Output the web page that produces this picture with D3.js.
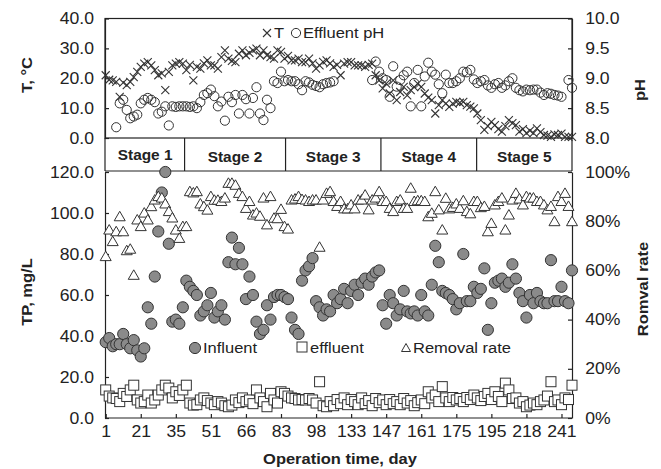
<!DOCTYPE html>
<html>
<head>
<meta charset="utf-8">
<script src="https://cdnjs.cloudflare.com/ajax/libs/d3/7.8.5/d3.min.js"></script>
<style>
  body { margin: 0; background: #fff; }
  text { font-family: "Liberation Sans", Arial, sans-serif; fill: #222; }
</style>
</head>
<body>
<div id="chart"></div>
<script>
// x axis is the sample number; one label every 10 samples
var tickLabels = ["1", "21", "35", "51", "66", "83", "98", "133", "147", "161", "175", "195", "218", "241"];
var stageNames = ["Stage 1", "Stage 2", "Stage 3", "Stage 4", "Stage 5"];
var stageBreaks = [22.5, 51.3, 78.5, 105.8]; // in sample index

var temperature = [
  21, 19.5, 19.3, 18.8, 13.8, 18.5, 17.7, 18.8, 20.4, 22.1,
  23.8, 24.9, 25.4, 24.3, 22.7, 21, 21.6, 16, 22.1, 24.3,
  24.9, 25.4, 24.9, 22.7, 24.5, 19.3, 23.8, 23.2, 25, 26,
  24.3, 24.3, 23.2, 27.1, 29.3, 26.6, 25.8, 25.4, 28.2, 29.3,
  27.7, 28.5, 29.3, 29.9, 27.7, 29.3, 27.7, 27.1, 26.6, 29.3,
  28.8, 26.6, 27.5, 26, 26, 26.6, 25.4, 25.4, 26.6, 25,
  23.2, 24.3, 25.5, 26, 25, 23.8, 24.5, 21, 24.9, 25.4,
  25.4, 24.3, 24.3, 24.3, 23.8, 24.5, 24.9, 21, 19.3, 16.6,
  18.2, 14.9, 19.3, 12.7, 15.4, 17.1, 14.3, 16, 17, 18.2,
  17.1, 14.9, 13.5, 12.7, 8.2, 11, 12.7, 11.5, 10.4, 11.5,
  12.1, 11.8, 12.1, 11, 10.5, 9.9, 8.2, 6, 2.7, 4,
  5.4, 4.3, 3, 2.1, 4, 6, 5, 4.3, 2.1, 3,
  1.6, 2.5, 1.6, 3.2, 2, 1, 0.8, 0.4, 1.2, 1,
  1.5, 0.4, 0.4, 0.4
];

var effluentPH = [
  null, null, null, 8.18, 8.58, 8.64, 8.47, 8.33, 8.36, 8.39,
  8.58, 8.64, 8.67, 8.64, 8.6, 8.41, 8.44, 8.53, 8.21, 8.53,
  8.52, 8.53, 8.53, 8.53, 8.52, 8.53, 8.5, 8.6, 8.72, 8.75,
  8.81, 8.7, 8.53, 8.61, 8.29, 8.69, 8.6, 8.72, 8.41, 8.72,
  8.65, 8.41, 8.67, 8.85, 8.41, 8.3, 8.64, 8.5, 8.95, 8.92,
  9.11, 8.95, 8.97, 8.95, 8.95, 8.9, 8.8, 8.95, 8.93, 8.89,
  8.87, 8.85, 8.9, 8.92, 8.93, 8.95, null, null, null, null,
  null, null, null, null, null, null, 8.97, 9.28, 9.11, 9.0,
  8.97, 8.69, 9.2, 8.86, 8.97, 9.05, 9.11, 8.53, 8.92, 9.14,
  8.53, 9.03, 9.26, 9.11, 9.06, 8.9, 8.75, 9.06, 8.92, 8.92,
  8.95, 9.0, 9.11, 9.1, 9.14, 8.98, 8.92, 8.95, 8.97, 8.88,
  8.84, 8.9, 8.92, 8.84, 8.88, 8.95, 9.0, 8.84, 8.8, 8.78,
  8.81, 8.8, 8.81, 8.81, 8.76, 8.72, 8.75, 8.74, 8.72, 8.71,
  8.69, null, 8.97, 8.84
];

var influentTP = [
  37, 39, 35, 36, 36, 41, 36, 34, 38, 33,
  30, 34, 54, 46, 69, 91, 110, 120, 85, 47,
  48, 46, 54, 67, 64, 62, 60, 50, 52, 55,
  61, 49, 52, 55, 48, 76, 88, 75, 83, 75,
  58, 69, 60, 47, 41, 43, 55, 48, 59, 60,
  60, 59, 58, 49, 43, 41, 67, 72, 74, 78,
  57, 54, 50, 53, 52, 60, 56, 58, 63, 56,
  62, 65, 60, 66, 68, 65, 69, 71, 72, 55,
  46, 60, 56, 50, 53, 62, 52, 51, 52, 50,
  60, 52, 50, 65, 84, 76, 62, 61, 60, 58,
  53, 56, 80, 57, 57, 64, 61, 63, 73, 43,
  56, 66, 67, 68, 64, 66, 75, 68, 61, 57,
  49, 60, 56, 61, 57, 56, 56, 77, 57, 57,
  64, 57, 56, 72
];

var effluentTP = [
  13.7, 10.7, 9.8, 9.5, 8, 12, 10.5, 13.7, 16, 8.8,
  7.3, 8, 11.2, 7.3, 8.8, 11.2, 13.7, 16, 14.6, 9.8,
  12.8, 11, 13.7, 16, 7.3, 6.3, 6.5, 8.8, 9.8, 8.5,
  7.3, 6.5, 8, 7.3, 6, 5.5, 6.3, 8.8, 7.5, 9.8,
  8, 8.8, 7, 13.7, 9.8, 8, 5.5, 12, 8.8, 7.3,
  12.8, 12, 10.7, 9.8, 9.5, 8.8, 9, 8.8, 9.5, 8.8,
  7.3, 17.7, 6, 5.5, 8, 6, 9, 7, 9.8, 6.5,
  9, 8, 6.5, 9.8, 7, 8.5, 6, 9.5, 7.5, 8.8,
  6.5, 9, 7, 8, 6.5, 9.5, 7.3, 8.5, 6, 7.5,
  8.8, 7, 12.8, 9.8, 11.2, 8, 15.3, 9.8, 8, 10,
  8.8, 9.5, 8, 10, 9, 11.2, 9.8, 8.5, 10.5, 12,
  9, 12.8, 10.5, 8, 17, 13.7, 9.5, 9.8, 7.3, 8,
  5.5, 6.3, 7.3, 6.5, 8, 8.8, 10.7, 17.7, 8, 8.8,
  6.5, 9.8, 9, 16
];

var removalRate = [
  65.6, 76.4, 71.7, 75.7, 81.8, 75.7, 68, 68.6, 58, 80.5,
  77.8, 83.3, 80.5, 85.9, 88.6, 90, 89.4, 87, 83.9, 81.3,
  76.4, 73, 77.8, 77.8, 92, 91.5, 92, 87, 85.9, 84.5,
  90, 88.5, 88.5, 88, 89.4, 95.4, 95.4, 94.6, 91.3, 90,
  85.2, 88, 82.5, 83.3, 82, 89.4, 78.5, 90, 81.2, 81,
  84.8, 77.8, 76.8, 88.6, 89, 90, 88.8, 88.6, 88, 88.6,
  88.6, 69.4, 88.6, 91.3, 92, 88, 86, 88, 85, 85,
  86.6, 85, 88.6, 88.6, 90.6, 84.6, 88.6, 89.4, 92, 88,
  88, 85.2, 83.9, 88, 88.6, 85.2, 85.2, 93.4, 88, 88.3,
  88.3, 88, 81.8, 83.2, 92, 84.6, 76.4, 89.3, 85, 85.6,
  87, 85.2, 88.3, 83.9, 83, 88, 88, 85.5, 86, 75.7,
  79.1, 86.6, 88, 89.4, 76.4, 82.5, 88.6, 91.3, 89, 86.6,
  90, 89.4, 89.4, 88, 88, 86.6, 84.6, 86, 79.8, 90,
  88, 91.3, 86, 79.8
];

var W = 661, H = 469;
var left = 105, right = 572;
var SX = 1.1; // the original text is a bit wide
var ink = "#222";

var svg = d3.select("#chart").append("svg")
  .attr("width", W)
  .attr("height", H);

var x = d3.scaleLinear().domain([0, temperature.length - 1]).range([left + 0.7, right]);

// top panel
var yT = d3.scaleLinear().domain([0, 40]).range([138, 18.5]);
var yPH = d3.scaleLinear().domain([8, 10]).range([138, 18.5]);
// bottom panel
var yTP = d3.scaleLinear().domain([0, 120]).range([418, 172]);
var yR = d3.scaleLinear().domain([0, 100]).range([418, 172]);

function label(g, tx, ty, str, size, bold, anchor, rot) {
  var t = g.append("text")
    .attr("transform", "translate(" + tx + "," + ty + ")" + (rot ? " rotate(" + rot + ")" : "") + " scale(" + SX + ",1)")
    .attr("font-size", size + "px")
    .attr("text-anchor", anchor || "start")
    .attr("dominant-baseline", "central")
    .text(str);
  if (bold) t.attr("font-weight", "bold");
  return t;
}

function styleAxis(g, pad) {
  g.selectAll("path, line").attr("stroke", ink).attr("stroke-width", 1.2);
  g.selectAll("text")
    .attr("font-size", "16px")
    .attr("fill", ink)
    .attr("font-family", '"Liberation Sans", Arial, sans-serif')
    .attr("transform", "scale(" + SX + ",1)");
}

// frame of top panel
svg.append("rect")
  .attr("x", left).attr("y", 18.5)
  .attr("width", right - left).attr("height", 138 - 18.5)
  .attr("fill", "none").attr("stroke", ink).attr("stroke-width", 1.2);

// stage band
var band = svg.append("g");
band.append("line").attr("x1", left).attr("x2", right).attr("y1", 171).attr("y2", 171)
  .attr("stroke", ink).attr("stroke-width", 1.2);
band.selectAll("line.brk")
  .data([0].concat(stageBreaks).concat([temperature.length - 1]))
  .enter().append("line")
  .attr("class", "brk")
  .attr("x1", function(d, i) { return i == 0 ? left : x(d); })
  .attr("x2", function(d, i) { return i == 0 ? left : x(d); })
  .attr("y1", 138).attr("y2", 171)
  .attr("stroke", ink).attr("stroke-width", 1.2);

var edges = [0].concat(stageBreaks).concat([temperature.length - 1]);
stageNames.forEach(function(s, i) {
  label(band, x((edges[i] + edges[i + 1]) / 2), i == 0 ? 155.5 : 157.5, s, 14, true, "middle");
});

// axes
var gTL = svg.append("g").attr("transform", "translate(" + left + ",0)")
  .call(d3.axisLeft(yT).tickValues([0, 10, 20, 30, 40]).tickFormat(d3.format(".1f"))
    .tickSizeInner(-4).tickSizeOuter(0).tickPadding(10));
styleAxis(gTL);

var gTR = svg.append("g").attr("transform", "translate(" + right + ",0)")
  .call(d3.axisRight(yPH).tickValues([8, 8.5, 9, 9.5, 10]).tickFormat(d3.format(".1f"))
    .tickSizeInner(-4).tickSizeOuter(0).tickPadding(12));
styleAxis(gTR);

var gBL = svg.append("g").attr("transform", "translate(" + left + ",0)")
  .call(d3.axisLeft(yTP).tickValues([0, 20, 40, 60, 80, 100, 120]).tickFormat(d3.format(".1f"))
    .tickSizeInner(-4).tickSizeOuter(0).tickPadding(10));
styleAxis(gBL);

var gBR = svg.append("g").attr("transform", "translate(" + right + ",0)")
  .call(d3.axisRight(yR).tickValues([0, 20, 40, 60, 80, 100]).tickFormat(function(d) { return d + "%"; })
    .tickSizeInner(-4).tickSizeOuter(0).tickPadding(12));
styleAxis(gBR);

var gX = svg.append("g").attr("transform", "translate(0,418)")
  .call(d3.axisBottom(x).tickValues(d3.range(0, temperature.length, 10))
    .tickFormat(function(d, i) { return tickLabels[i]; })
    .tickSizeInner(-4).tickSizeOuter(0).tickPadding(8));
styleAxis(gX);
gX.select(".domain").attr("d", "M" + left + ",0H" + right);

// axis titles
label(svg, 27, 75, "T, \u00b0C", 15, true, "middle", -90);
label(svg, 27, 292, "TP, mg/L", 15, true, "middle", -90);
label(svg, 640, 90, "pH", 15, true, "middle", -90);
label(svg, 643, 289, "Romval rate", 15, true, "middle", -90);
label(svg, 340, 459, "Operation time, day", 15, true, "middle");

// marks
var marks = svg.append("g");
var cross = "M-4,-4L4,4M-4,4L4,-4";
var tri = "M0,-5.5L5.5,4L-5.5,4Z";

marks.selectAll("path.t")
  .data(temperature)
  .enter().append("path")
  .attr("class", "t")
  .attr("d", cross)
  .attr("transform", function(d, i) { return "translate(" + x(i) + "," + yT(d) + ")"; })
  .attr("stroke", "#333").attr("stroke-width", 1.1).attr("fill", "none");

marks.selectAll("circle.ph")
  .data(effluentPH.map(function(v, i) { return { i: i, v: v }; }).filter(function(d) { return d.v != null; }))
  .enter().append("circle")
  .attr("class", "ph")
  .attr("cx", function(d) { return x(d.i); })
  .attr("cy", function(d) { return yPH(d.v); })
  .attr("r", 4.6)
  .attr("fill", "none").attr("stroke", "#333").attr("stroke-width", 1);

marks.selectAll("circle.inf")
  .data(influentTP)
  .enter().append("circle")
  .attr("class", "inf")
  .attr("cx", function(d, i) { return x(i); })
  .attr("cy", function(d) { return yTP(d); })
  .attr("r", 5.6)
  .attr("fill", "#8a8a8a").attr("stroke", "#333").attr("stroke-width", 1);

marks.selectAll("rect.eff")
  .data(effluentTP)
  .enter().append("rect")
  .attr("class", "eff")
  .attr("x", function(d, i) { return x(i) - 5; })
  .attr("y", function(d) { return yTP(d) - 5; })
  .attr("width", 10).attr("height", 10)
  .attr("fill", "#fff").attr("stroke", "#333").attr("stroke-width", 1);

marks.selectAll("path.rr")
  .data(removalRate)
  .enter().append("path")
  .attr("class", "rr")
  .attr("d", tri)
  .attr("transform", function(d, i) { return "translate(" + x(i) + "," + yR(d) + ")"; })
  .attr("fill", "#fff").attr("stroke", "#333").attr("stroke-width", 1);

// legends
var lg = svg.append("g");
lg.append("path").attr("d", cross).attr("transform", "translate(267,33)")
  .attr("stroke", "#333").attr("stroke-width", 1.1).attr("fill", "none");
label(lg, 274, 33, "T", 15, false);
lg.append("circle").attr("cx", 296).attr("cy", 33).attr("r", 4.6)
  .attr("fill", "none").attr("stroke", "#333");
label(lg, 303, 33, "Effluent pH", 15, false);

lg.append("circle").attr("cx", 195).attr("cy", 348).attr("r", 5.6)
  .attr("fill", "#8a8a8a").attr("stroke", "#333");
label(lg, 203, 348, "Influent", 15, false);
lg.append("rect").attr("x", 297).attr("y", 342).attr("width", 10).attr("height", 10)
  .attr("fill", "#fff").attr("stroke", "#333");
label(lg, 310, 348, "effluent", 15, false);
lg.append("path").attr("d", "M0,-4.5L4.5,3.5L-4.5,3.5Z").attr("transform", "translate(406,348)")
  .attr("fill", "#fff").attr("stroke", "#333");
label(lg, 413, 348, "Removal rate", 15, false);
</script>
</body>
</html>
